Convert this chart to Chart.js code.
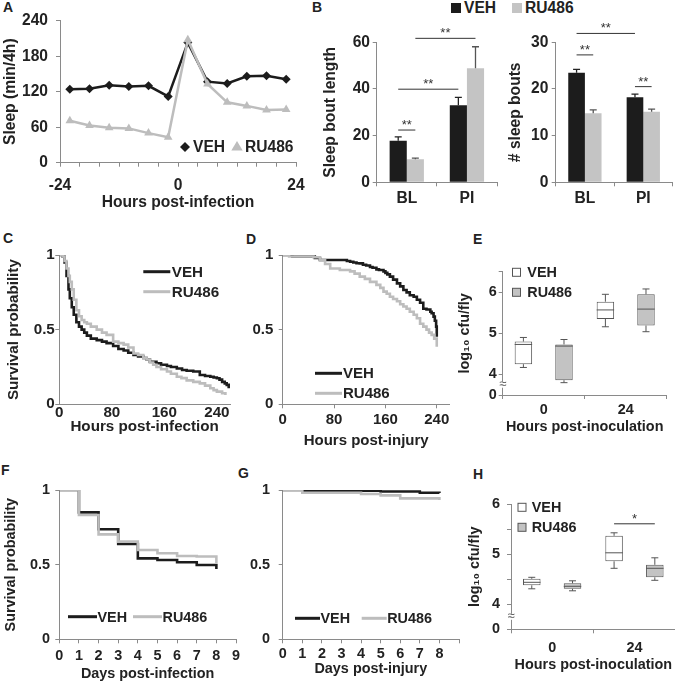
<!DOCTYPE html>
<html>
<head>
<meta charset="utf-8">
<script src="https://cdn.jsdelivr.net/npm/chart.js@4"></script>
<style>
  body { margin: 0; background: #fff; width: 675px; height: 685px; overflow: hidden; position: relative;
         font-family: 'Liberation Sans', Arial, 'DejaVu Sans', sans-serif; }
  canvas { position: absolute; }
  #cH { z-index: 5; }
  .lt { position: absolute; font-weight: bold; font-size: 14px; line-height: 14px; color: #222; }
  #legB { position: absolute; left: 451px; top: 0px; height: 15px; display: flex; align-items: center;
          font-weight: bold; font-size: 15.6px; line-height: 15px; color: #222; }
  #legB span.sq { display: inline-block; width: 10px; height: 10px; margin-right: 3px; }
</style>
</head>
<body>
<div class="lt" style="left:3px;top:0px">A</div>
<div class="lt" style="left:312px;top:0px">B</div>
<div class="lt" style="left:3px;top:231px">C</div>
<div class="lt" style="left:246px;top:232px">D</div>
<div class="lt" style="left:473px;top:232px">E</div>
<div class="lt" style="left:1px;top:463px">F</div>
<div class="lt" style="left:238px;top:466px">G</div>
<div class="lt" style="left:473px;top:467px">H</div>
<div id="legB"><span class="sq" style="background:#1c1c1c"></span>VEH<span class="sq" style="background:#c4c4c4;margin-left:16px"></span>RU486</div>

<canvas id="cA"></canvas>
<canvas id="cB1"></canvas>
<canvas id="cB2"></canvas>
<canvas id="cC"></canvas>
<canvas id="cD"></canvas>
<canvas id="cE"></canvas>
<canvas id="cF"></canvas>
<canvas id="cG"></canvas>
<canvas id="cH"></canvas>

<script>
// ---- data ----
// A: sleep per 4h bin
const sleepHours = [-22, -18, -14, -10, -6, -2, 2, 6, 10, 14, 18, 22];
const sleepVeh = [124, 125, 131, 129, 130, 112, 203, 137, 134, 146, 147, 141];
const sleepRu = [71, 63, 59, 58, 50, 43, 208, 133, 102, 96, 89, 90];

// B: bout length / bout number (mean, sem)
const boutGroups = ['BL', 'PI'];
const boutLenVeh = [17.8, 33.0];
const boutLenVehErr = [1.7, 3.4];
const boutLenRu = [9.9, 48.9];
const boutLenRuErr = [0.5, 9.2];
const boutNumVeh = [23.5, 18.2];
const boutNumVehErr = [0.7, 0.7];
const boutNumRu = [14.8, 15.1];
const boutNumRuErr = [0.7, 0.6];
// [category1, dataset1, category2, dataset2, height, mark]
const boutLenSig = [[0, 0, 0, 1, 22.4, '**'], [0, 0, 1, 0, 39.9, '**'], [0, 1, 1, 1, 61.7, '**']];
const boutNumSig = [[0, 0, 0, 1, 27.3, '**'], [0, 0, 1, 0, 31.9, '**'], [1, 0, 1, 1, 20.5, '**']];

// C: survival after infection (hours)
const infVehT = [0, 5, 8, 11, 14, 16, 19, 22, 26, 30, 34, 38, 42, 48, 57, 65, 72, 82, 90, 98, 105, 113, 120, 128, 133, 138, 148, 155, 164, 170, 179, 187, 194, 204, 214, 222, 230, 235, 240, 244, 248, 252, 255, 258];
const infVehS = [1, 0.99, 0.95, 0.86, 0.77, 0.71, 0.65, 0.6, 0.55, 0.52, 0.5, 0.48, 0.46, 0.44, 0.43, 0.42, 0.41, 0.39, 0.37, 0.36, 0.345, 0.33, 0.32, 0.31, 0.3, 0.285, 0.275, 0.265, 0.257, 0.25, 0.24, 0.23, 0.225, 0.22, 0.196, 0.19, 0.185, 0.18, 0.174, 0.165, 0.15, 0.14, 0.13, 0.107];
const infRuT = [0, 5, 8, 11, 14, 16, 19, 22, 26, 30, 34, 38, 42, 48, 57, 65, 72, 82, 90, 98, 105, 113, 120, 128, 133, 138, 143, 148, 155, 164, 170, 179, 186, 194, 204, 214, 222, 230, 235, 240, 248, 253];
const infRuS = [1, 0.99, 0.96, 0.91, 0.86, 0.82, 0.77, 0.7, 0.63, 0.59, 0.565, 0.55, 0.54, 0.52, 0.5, 0.48, 0.465, 0.42, 0.41, 0.4, 0.38, 0.34, 0.33, 0.31, 0.3, 0.28, 0.265, 0.25, 0.235, 0.22, 0.205, 0.185, 0.175, 0.16, 0.15, 0.14, 0.125, 0.107, 0.095, 0.085, 0.074, 0.063];

// D: survival after injury (hours)
const injVehT = [0, 15, 50, 58, 100, 105, 110, 115, 120, 125, 130, 136, 140, 146, 150, 157, 160, 163, 167, 172, 178, 183, 188, 193, 198, 204, 209, 214, 219, 224, 230, 232, 235, 237, 239, 240];
const injVehS = [1, 0.99, 0.98, 0.967, 0.96, 0.955, 0.95, 0.945, 0.944, 0.935, 0.93, 0.92, 0.915, 0.904, 0.9, 0.89, 0.88, 0.87, 0.855, 0.835, 0.81, 0.79, 0.766, 0.75, 0.73, 0.72, 0.7, 0.68, 0.64, 0.635, 0.62, 0.61, 0.587, 0.56, 0.52, 0.453];
const injRuT = [0, 10, 48, 58, 66, 74, 89, 105, 112, 120, 128, 136, 146, 152, 157, 162, 167, 172, 178, 183, 188, 193, 198, 204, 209, 214, 219, 224, 228, 232, 236, 240];
const injRuS = [1, 0.99, 0.985, 0.967, 0.94, 0.91, 0.9, 0.89, 0.875, 0.855, 0.84, 0.82, 0.8, 0.78, 0.755, 0.74, 0.72, 0.705, 0.69, 0.67, 0.655, 0.64, 0.62, 0.6, 0.576, 0.54, 0.52, 0.5, 0.48, 0.465, 0.44, 0.386];

// E, H: log10 cfu/fly box summaries [min, q1, median, q3, max]
const cfuTimes = ['0', '24'];
const cfuInfVeh = [[4.17, 4.25, 4.73, 4.80, 4.90], [5.16, 5.35, 5.57, 5.77, 5.95]];
const cfuInfRu = [[3.80, 3.86, 4.69, 4.73, 4.85], [5.04, 5.19, 5.59, 5.95, 6.08]];
const cfuInjVeh = [[4.31, 4.38, 4.44, 4.51, 4.54], [4.72, 4.86, 5.03, 5.37, 5.43]];
const cfuInjRu = [[4.27, 4.31, 4.36, 4.42, 4.47], [4.48, 4.54, 4.72, 4.79, 4.93]];
const cfuInjSig = [[1, 0, 1, 1, 5.61, '*']];

// F, G: survival by day
const days = [0, 1, 2, 3, 4, 5, 6, 7, 8];
const dayInfVeh = [1, 0.85, 0.737, 0.638, 0.542, 0.531, 0.516, 0.498, 0.471];
const dayInfRu = [1, 0.833, 0.703, 0.654, 0.598, 0.576, 0.558, 0.555, 0.51];
const dayInjVeh = [1, 0.995, 0.995, 0.995, 0.995, 0.99, 0.99, 0.982, 0.98];
const dayInjRu = [1, 0.982, 0.982, 0.982, 0.973, 0.964, 0.944, 0.944, 0.933];

// ---- styling ----
const FONT = "'Liberation Sans', Arial, 'DejaVu Sans', sans-serif";
const ink = '#222';
const axisGray = '#8a8a8a';
const black = '#1c1c1c';
const grey = '#bdbdbd';
const bf = size => ({ family: FONT, size: size, weight: 'bold' });
const plain = v => String(v);
const cfuFmt = v => (Math.abs(v - 3.5) < 1e-6 ? '0' : (Math.abs(v - Math.round(v)) < 1e-6 ? String(Math.round(v)) : ''));

function frame(id, box, area, fs) {
  const c = document.getElementById(id);
  c.width = box[2]; c.height = box[3];
  c.style.left = box[0] + 'px'; c.style.top = box[1] + 'px';
  return {
    canvas: c, left: box[0], top: box[1], bottom: box[1] + box[3], fs: fs,
    padding: { left: 0, top: area[1] - box[1], right: box[0] + box[2] - area[2], bottom: 0 },
    yW: area[0] - box[0], xH: box[1] + box[3] - area[3]
  };
}

function yAxis(f, o) {
  const ax = {
    type: 'linear', position: 'left', min: o.min, max: o.max,
    afterFit: s => { s.width = f.yW; s.paddingTop = 0; s.paddingBottom = 0; },
    border: { color: axisGray, width: 1 },
    grid: { drawOnChartArea: false, drawTicks: true, tickLength: 4, color: axisGray },
    ticks: { color: ink, font: bf(f.fs), padding: o.gap - 4, autoSkip: false },
    title: { display: false }
  };
  if (o.step) ax.ticks.stepSize = o.step;
  if (o.list) ax.afterBuildTicks = s => { s.ticks = o.list.map(v => ({ value: v })); };
  if (o.fmt) ax.ticks.callback = o.fmt;
  if (o.title) ax.title = { display: true, text: o.title, color: ink, font: bf(f.fs),
                            padding: { top: o.titleX - f.left - f.fs * 0.6, bottom: 0 } };
  return ax;
}

function xAxis(f, o) {
  const tl = o.noTicks ? 0 : 4;
  const ax = {
    type: o.cat ? 'category' : 'linear', position: 'bottom',
    afterFit: s => { s.height = f.xH; s.paddingLeft = 0; s.paddingRight = 0; },
    border: { color: axisGray, width: 1 },
    grid: { drawOnChartArea: false, drawTicks: !o.noTicks, tickLength: 4, color: axisGray, offset: !!o.cat },
    ticks: { color: ink, font: bf(f.fs), padding: o.lab - tl - f.fs * 0.53, maxRotation: 0, autoSkip: false },
    title: { display: false }
  };
  if (o.cat) ax.offset = true; else { ax.min = o.min; ax.max = o.max; }
  if (o.step) ax.ticks.stepSize = o.step;
  if (o.list) ax.afterBuildTicks = s => { s.ticks = o.list.map(v => ({ value: v })); };
  if (o.fmt) ax.ticks.callback = o.fmt;
  if (o.title) ax.title = { display: true, text: o.title, color: ink, font: bf(f.fs),
                            padding: { top: 0, bottom: f.bottom - o.titleY - f.fs * 0.6 } };
  return ax;
}

function legendAt(f, o) {
  return Object.assign({}, o, { x: o.x - f.left, y: o.y - f.top, fs: f.fs });
}

function base(f, scales, extras) {
  return {
    responsive: false, animation: false, devicePixelRatio: 1,
    layout: { padding: f.padding },
    plugins: { legend: { display: false }, tooltip: { enabled: false }, extras: extras || {} },
    scales: scales
  };
}

function mark(ctx, style, x, y, r, color) {
  ctx.fillStyle = color;
  ctx.beginPath();
  if (style === 'rectRot') {
    ctx.moveTo(x, y - r); ctx.lineTo(x + r, y); ctx.lineTo(x, y + r); ctx.lineTo(x - r, y);
  } else {
    ctx.moveTo(x, y - r); ctx.lineTo(x + r * 0.95, y + r * 0.6); ctx.lineTo(x - r * 0.95, y + r * 0.6);
  }
  ctx.closePath(); ctx.fill();
}

// error bars, box whiskers, significance bars, inset legends, axis break
const extras = {
  id: 'extras',
  afterDatasetsDraw(chart) {
    const ctx = chart.ctx, y = chart.scales.y;
    ctx.save();
    chart.data.datasets.forEach((ds, di) => {
      const meta = chart.getDatasetMeta(di);
      if (ds.errs) meta.data.forEach((el, i) => {
        const top = y.getPixelForValue(ds.data[i] + ds.errs[i]);
        ctx.strokeStyle = ds.errColor; ctx.lineWidth = 1.3;
        ctx.beginPath();
        ctx.moveTo(el.x, el.y); ctx.lineTo(el.x, top);
        ctx.moveTo(el.x - 3.5, top); ctx.lineTo(el.x + 3.5, top);
        ctx.stroke();
      });
      if (ds.stats) meta.data.forEach((el, i) => {
        const s = ds.stats[i].map(v => y.getPixelForValue(v));
        const hw = el.width / 2, cw = 3.5;
        ctx.strokeStyle = '#555'; ctx.lineWidth = 1;
        ctx.beginPath();
        ctx.moveTo(el.x, s[3]); ctx.lineTo(el.x, s[4]);
        ctx.moveTo(el.x - cw, s[4]); ctx.lineTo(el.x + cw, s[4]);
        ctx.moveTo(el.x, s[1]); ctx.lineTo(el.x, s[0]);
        ctx.moveTo(el.x - cw, s[0]); ctx.lineTo(el.x + cw, s[0]);
        ctx.moveTo(el.x - hw, s[2]); ctx.lineTo(el.x + hw, s[2]);
        ctx.stroke();
      });
    });
    ctx.restore();
  },
  afterDraw(chart, args, o) {
    const ctx = chart.ctx, y = chart.scales.y;
    ctx.save();
    if (o.sig) o.sig.forEach(s => {
      const x1 = chart.getDatasetMeta(s[1]).data[s[0]].x;
      const x2 = chart.getDatasetMeta(s[3]).data[s[2]].x;
      const yy = y.getPixelForValue(s[4]);
      ctx.strokeStyle = '#333'; ctx.lineWidth = 1;
      ctx.beginPath(); ctx.moveTo(x1, yy); ctx.lineTo(x2, yy); ctx.stroke();
      ctx.fillStyle = '#333'; ctx.font = '13px ' + FONT;
      ctx.textAlign = 'center'; ctx.textBaseline = 'alphabetic';
      ctx.fillText(s[5], (x1 + x2) / 2, yy - 1);
    });
    if (o.brk) {
      const yb = (y.getPixelForValue(o.brk[0]) + y.getPixelForValue(o.brk[1])) / 2;
      const xa = chart.chartArea.left;
      ctx.fillStyle = '#fff'; ctx.fillRect(xa - 5, yb - 3, 10, 6);
      ctx.fillStyle = '#555'; ctx.font = '13px ' + FONT;
      ctx.textAlign = 'center'; ctx.textBaseline = 'middle';
      ctx.fillText('\u2248', xa, yb);
    }
    if (o.legend) {
      const L = o.legend;
      chart.data.datasets.forEach((ds, i) => {
        const px = L.x + i * (L.dx || 0), py = L.y + i * (L.dy || 0);
        let tx;
        if (L.kind === 'line') {
          ctx.strokeStyle = ds.borderColor; ctx.lineWidth = 3;
          ctx.beginPath(); ctx.moveTo(px, py); ctx.lineTo(px + L.len, py); ctx.stroke();
          tx = px + L.len + L.gap;
        } else if (L.kind === 'point') {
          mark(ctx, ds.pointStyle, px, py, ds.pointStyle === 'rectRot' ? 5 : 6, ds.borderColor);
          tx = px + L.gap;
        } else {
          const h = L.len / 2;
          ctx.fillStyle = ds.backgroundColor; ctx.fillRect(px - h, py - h, L.len, L.len);
          ctx.strokeStyle = '#555'; ctx.lineWidth = 1; ctx.strokeRect(px - h, py - h, L.len, L.len);
          tx = px + L.gap;
        }
        ctx.fillStyle = ink; ctx.font = 'bold ' + L.fs + 'px ' + FONT;
        ctx.textAlign = 'left'; ctx.textBaseline = 'middle';
        ctx.fillText(ds.label, tx, py + 1);
      });
    }
    ctx.restore();
  }
};
Chart.register(extras);

const pts = (xs, ys) => xs.map((x, i) => ({ x: x, y: ys[i] }));
const kmLine = (label, xs, ys, color, order) => ({
  label: label, data: pts(xs, ys), borderColor: color, backgroundColor: color,
  borderWidth: 2.6, pointRadius: 0, stepped: true, order: order
});

// ---- A ----
const fA = frame('cA', [0, 8, 306, 208], [60, 20.7, 296, 162.7], 15.6);
new Chart(fA.canvas, {
  type: 'line',
  data: { datasets: [
    { label: 'VEH', data: pts(sleepHours, sleepVeh), borderColor: black, backgroundColor: black,
      borderWidth: 2.5, pointStyle: 'rectRot', pointRadius: 4.5, pointBorderWidth: 0, order: 1 },
    { label: 'RU486', data: pts(sleepHours, sleepRu), borderColor: grey, backgroundColor: grey,
      borderWidth: 2.5, pointStyle: 'triangle', pointRadius: 5, pointBorderWidth: 0, order: 0 }
  ] },
  options: base(fA, {
    x: xAxis(fA, { min: -24, max: 24, step: 4, fmt: v => (v % 24 === 0 ? String(v) : ''),
                   lab: 21.6, title: 'Hours post-infection', titleY: 203 }),
    y: yAxis(fA, { min: 0, max: 240, step: 60, gap: 12, title: 'Sleep (min/4h)', titleX: 11 })
  }, { legend: legendAt(fA, { kind: 'point', x: 185, y: 147, dx: 52, gap: 8 }) })
});

// ---- B ----
function boutChart(id, box, area, veh, vehErr, ru, ruErr, sig, yo) {
  const f = frame(id, box, area, 15.6);
  return new Chart(f.canvas, {
    type: 'bar',
    data: { labels: boutGroups, datasets: [
      { label: 'VEH', data: veh, errs: vehErr, errColor: '#222', backgroundColor: black,
        categoryPercentage: 0.57, barPercentage: 1.0 },
      { label: 'RU486', data: ru, errs: ruErr, errColor: '#555', backgroundColor: '#c4c4c4',
        categoryPercentage: 0.57, barPercentage: 1.0 }
    ] },
    options: base(f, {
      x: xAxis(f, { cat: true, lab: 15.2 }),
      y: yAxis(f, yo)
    }, { sig: sig })
  });
}
boutChart('cB1', [320, 20, 185, 195], [376.7, 42.3, 497, 182.3], boutLenVeh, boutLenVehErr, boutLenRu, boutLenRuErr,
  boutLenSig, { min: 0, max: 60, step: 20, gap: 6.7, title: 'Sleep bout length', titleX: 331 });
boutChart('cB2', [505, 20, 171, 195], [555.7, 42.3, 672.5, 182.3], boutNumVeh, boutNumVehErr, boutNumRu, boutNumRuErr,
  boutNumSig, { min: 0, max: 30, step: 10, gap: 7.4, title: '# sleep bouts', titleX: 516 });

// ---- C ----
const fC = frame('cC', [3, 240, 237, 200], [59.3, 255, 230, 404.3], 15.2);
new Chart(fC.canvas, {
  type: 'line',
  data: { datasets: [kmLine('VEH', infVehT, infVehS, black, 1), kmLine('RU486', infRuT, infRuS, grey, 0)] },
  options: base(fC, {
    x: xAxis(fC, { min: 0, max: 260, list: [0, 80, 160, 240], noTicks: true, lab: 7.4,
                   title: 'Hours post-infection', titleY: 426.7 }),
    y: yAxis(fC, { min: 0, max: 1, list: [0, 0.5, 1], fmt: plain, gap: 4.5, title: 'Survival probability', titleX: 14 })
  }, { legend: legendAt(fC, { kind: 'line', x: 143.3, y: 271.7, dy: 20, len: 27, gap: 1.5 }) })
});

// ---- D ----
const fD = frame('cD', [245, 240, 215, 215], [282.7, 255, 449.6, 404.3], 15);
new Chart(fD.canvas, {
  type: 'line',
  data: { datasets: [kmLine('VEH', injVehT, injVehS, black, 1), kmLine('RU486', injRuT, injRuS, grey, 0)] },
  options: base(fD, {
    x: xAxis(fD, { min: 0, max: 260, list: [0, 80, 160, 240], lab: 14.7,
                   title: 'Hours post-injury', titleY: 440.7 }),
    y: yAxis(fD, { min: 0, max: 1, list: [0, 0.5, 1], fmt: plain, gap: 9.4 })
  }, { legend: legendAt(fD, { kind: 'line', x: 315, y: 373.3, dy: 20, len: 27, gap: 1 }) })
});

// ---- F / G ----
function dayChart(id, box, area, veh, ru, xo, yo, leg) {
  const f = frame(id, box, area, 14.4);
  return new Chart(f.canvas, {
    type: 'line',
    data: { datasets: [kmLine('VEH', days, veh, black, 1), kmLine('RU486', days, ru, grey, 0)] },
    options: base(f, {
      x: xAxis(f, Object.assign({ min: 0, max: 9, step: 1 }, xo)),
      y: yAxis(f, Object.assign({ min: 0, max: 1, list: [0, 0.5, 1], fmt: plain }, yo))
    }, { legend: legendAt(f, leg) })
  });
}
dayChart('cF', [0, 475, 245, 210], [59.3, 490, 236, 639.3], dayInfVeh, dayInfRu,
  { lab: 15.7, title: 'Days post-infection', titleY: 674 },
  { gap: 9.3, title: 'Survival probability', titleX: 11 },
  { kind: 'line', x: 68, y: 616.7, dx: 65, len: 29, gap: 0.5 });
dayChart('cG', [245, 475, 218, 210], [282.7, 490, 459, 639.3], dayInjVeh, dayInjRu,
  { lab: 13.7, title: 'Days post-injury', titleY: 669, fmt: v => (v === 9 ? '' : String(v)) },
  { gap: 12.7 },
  { kind: 'line', x: 295, y: 618.3, dx: 66.7, len: 25, gap: 0.5 });

// ---- E / H ----
function cfuChart(id, box, area, veh, ru, yo, xo, leg, sig) {
  const f = frame(id, box, area, 14.4);
  const boxSet = (label, stats, fill) => ({
    label: label, data: stats.map(s => [s[1], s[3]]), stats: stats,
    backgroundColor: fill, borderColor: '#555', borderWidth: 1, borderSkipped: false,
    categoryPercentage: 0.99, barPercentage: 0.43
  });
  return new Chart(f.canvas, {
    type: 'bar',
    data: { labels: cfuTimes, datasets: [boxSet('VEH', veh, '#ffffff'), boxSet('RU486', ru, '#c3c3c3')] },
    options: base(f, {
      x: xAxis(f, Object.assign({ cat: true, title: 'Hours post-inoculation' }, xo)),
      y: yAxis(f, Object.assign({ fmt: cfuFmt, title: 'log\u2081\u2080 cfu/fly' }, yo))
    }, { brk: [3.5, 4], sig: sig, legend: legendAt(f, leg) })
  });
}
cfuChart('cE', [453, 255, 222, 185], [502.7, 271.7, 666.7, 395], cfuInfVeh, cfuInfRu,
  { min: 3.5, max: 6.5, list: [3.5, 4, 5, 6, 6.5], gap: 6, titleX: 465 },
  { lab: 14, titleY: 427.5 },
  { kind: 'box', x: 516.5, y: 272.3, dy: 20, len: 8, gap: 10.8 });
cfuChart('cH', [463, 475, 213, 210], [511, 504.3, 675.6, 629.3], cfuInjVeh, cfuInjRu,
  { min: 3.5, max: 6, step: 0.5, gap: 11, titleX: 475 },
  { lab: 18.2, titleY: 665 },
  { kind: 'box', x: 522, y: 507.3, dy: 20, len: 8, gap: 9.7 }, cfuInjSig);
</script>
</body>
</html>
